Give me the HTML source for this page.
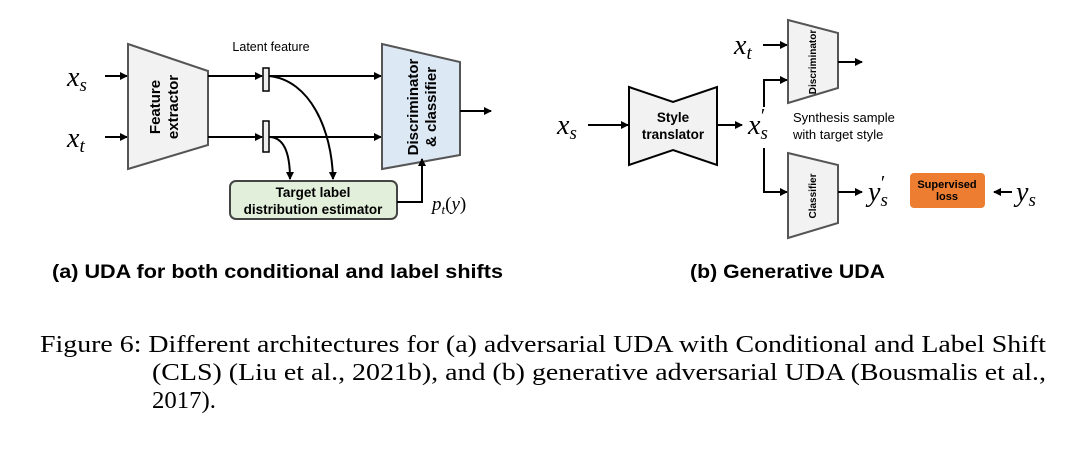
<!DOCTYPE html>
<html><head><meta charset="utf-8"><style>body{margin:0;background:#fff}svg{display:block}</style></head><body>
<svg width="1080" height="458" viewBox="0 0 1080 458" xmlns="http://www.w3.org/2000/svg">
<defs><marker id="a" markerWidth="8" markerHeight="8" refX="7" refY="4" orient="auto" markerUnits="userSpaceOnUse"><path d="M0,0 L8,4 L0,8 z" fill="#000"/></marker></defs>
<g stroke="#000" stroke-width="2" fill="none">
<path d="M105,76 H127" marker-end="url(#a)"/>
<path d="M105,137 H127" marker-end="url(#a)"/>
<polygon points="128,44 208,71 208,145 128,169" fill="#f2f2f2" stroke="#555"/>
<path d="M208,76 H262" marker-end="url(#a)"/>
<path d="M208,137 H262" marker-end="url(#a)"/>
<rect x="263" y="68" width="6" height="23" fill="#eee" stroke-width="1.5"/>
<rect x="263" y="121" width="6" height="31" fill="#eee" stroke-width="1.5"/>
<path d="M269,76 H381" marker-end="url(#a)"/>
<path d="M269,137 H381" marker-end="url(#a)"/>
<path d="M269,76 C310,80 332,130 333,179" marker-end="url(#a)"/>
<path d="M269,137 C285,137 290,155 290,179" marker-end="url(#a)"/>
<polygon points="382,44 460,62 460,155 382,169" fill="#dde8f5" stroke="#555"/>
<path d="M460,111 H491" marker-end="url(#a)"/>
<rect x="230" y="181" width="167" height="38" rx="6" fill="#e2efda" stroke="#444"/>
<path d="M397,202 H422 V159" marker-end="url(#a)"/>
<path d="M588,125 H628" marker-end="url(#a)"/>
<polygon points="629,87 673,102 717,87 717,165 673,150 629,165" fill="#f2f2f2"/>
<path d="M717,125 H742" marker-end="url(#a)"/>
<path d="M763,45 H787" marker-end="url(#a)"/>
<path d="M764,107 V80 H787" marker-end="url(#a)"/>
<polygon points="788,20 838,33 838,88 788,103" fill="#f2f2f2" stroke="#555"/>
<path d="M838,62 H862" marker-end="url(#a)"/>
<path d="M764,148 V192 H787" marker-end="url(#a)"/>
<polygon points="788,153 838,165 838,223 788,238" fill="#f2f2f2" stroke="#555"/>
<path d="M838,192 H862" marker-end="url(#a)"/>
<path d="M1012,192 H994" marker-end="url(#a)"/>
</g>
<rect x="910" y="173" width="75" height="35" rx="4" fill="#ed7d31"/>
<g font-family="Liberation Sans, sans-serif" text-anchor="middle">
<text x="271" y="51" font-size="12.5">Latent feature</text>
<g font-weight="bold" font-size="15">
<text transform="translate(163,107) rotate(-90)" x="0" y="-3">Feature</text>
<text transform="translate(163,107) rotate(-90)" x="0" y="15">extractor</text>
<text transform="translate(421,107) rotate(-90)" x="0" y="-3">Discriminator</text>
<text transform="translate(421,107) rotate(-90)" x="0" y="15">&amp; classifier</text>
</g>
<g font-weight="bold" font-size="13.5">
<text x="313" y="197">Target label</text>
<text x="313" y="214">distribution estimator</text>
<text x="673" y="122">Style</text>
<text x="673" y="139">translator</text>
</g>
<g font-weight="bold" font-size="10">
<text transform="translate(816,62) rotate(-90)" x="0" y="0">Discriminator</text>
<text transform="translate(816,196) rotate(-90)" x="0" y="0">Classifier</text>
<text x="947" y="188" font-size="11">Supervised</text>
<text x="947" y="200" font-size="11">loss</text>
</g>
<g text-anchor="start" font-size="13">
<text x="793" y="122">Synthesis sample</text>
<text x="793" y="139">with target style</text>
</g>
<g font-weight="bold" font-size="19" text-anchor="start">
<text x="52" y="278" textLength="451" lengthAdjust="spacingAndGlyphs">(a) UDA for both conditional and label shifts</text>
<text x="690" y="278" textLength="195" lengthAdjust="spacingAndGlyphs">(b) Generative UDA</text>
</g>
</g>
<g font-family="Liberation Serif, serif" font-style="italic" font-size="28">
<text x="67" y="86">x<tspan font-size="19" dy="5">s</tspan></text>
<text x="67" y="147">x<tspan font-size="19" dy="5">t</tspan></text>
<text x="557" y="134">x<tspan font-size="19" dy="5">s</tspan></text>
<text x="734" y="54">x<tspan font-size="19" dy="5">t</tspan></text>
<text x="748" y="134">x<tspan font-size="19" dy="5">s</tspan><tspan font-size="20" font-style="normal" dx="-7" dy="-17">′</tspan></text>
<text x="868" y="201">y<tspan font-size="19" dy="5">s</tspan><tspan font-size="20" font-style="normal" dx="-7" dy="-17">′</tspan></text>
<text x="1016" y="201">y<tspan font-size="19" dy="5">s</tspan></text>
<text x="432" y="210" font-size="19">p<tspan font-size="13" dy="4">t</tspan><tspan dy="-4" font-style="normal">(</tspan>y<tspan font-style="normal">)</tspan></text>
</g>
<g font-family="Liberation Serif, serif" font-size="24">
<text x="40" y="352" textLength="1006" lengthAdjust="spacingAndGlyphs">Figure 6:  Different architectures for (a) adversarial UDA with Conditional and Label Shift</text>
<text x="152" y="380" textLength="894" lengthAdjust="spacingAndGlyphs">(CLS) (Liu et al., 2021b), and (b) generative adversarial UDA (Bousmalis et al.,</text>
<text x="152" y="408" textLength="64" lengthAdjust="spacingAndGlyphs">2017).</text>
</g>
</svg>
</body></html>
